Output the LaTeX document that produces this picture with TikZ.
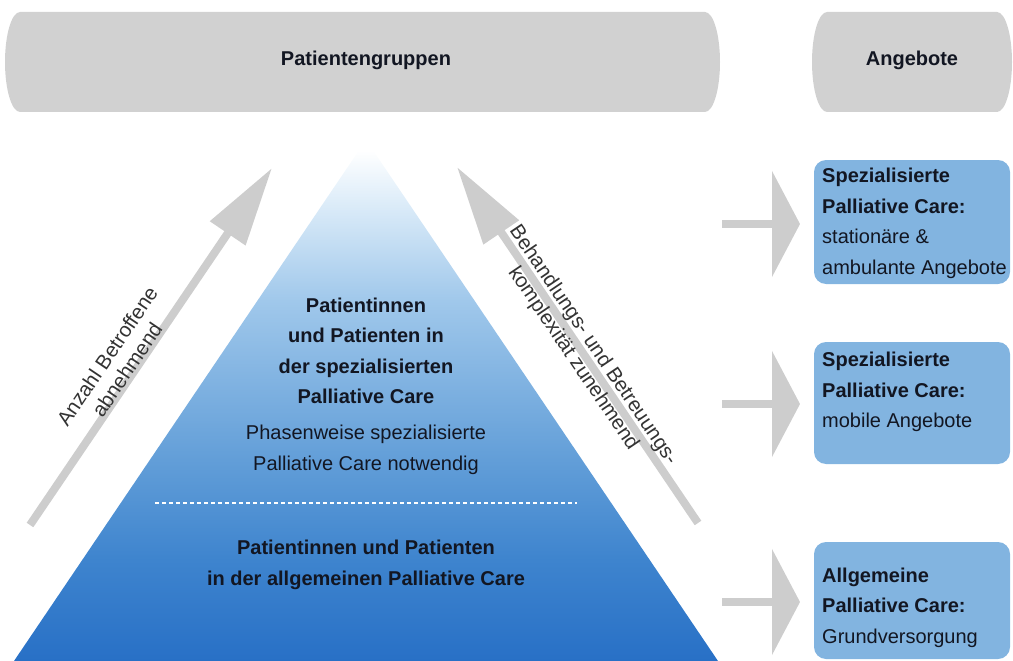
\documentclass[tikz,border=0pt]{standalone}
\usepackage{fontspec}
\setmainfont{Liberation Sans}
\usetikzlibrary{arrows.meta}
\definecolor{pillgray}{RGB}{209,209,209}
\definecolor{arrowgray}{RGB}{205,205,205}
\definecolor{boxblue}{RGB}{130,180,224}
\definecolor{txt}{RGB}{18,22,34}
\definecolor{pbA}{RGB}{40,112,198}
\definecolor{pbB}{RGB}{62,132,206}
\definecolor{pbC}{RGB}{98,158,216}
\definecolor{pbD}{RGB}{160,200,235}
\definecolor{pbE}{RGB}{222,237,249}
\pgfdeclareverticalshading{pyrshade}{100bp}{color(0bp)=(pbA); color(25bp)=(pbA); color(34.7bp)=(pbB); color(44.3bp)=(pbC); color(59.6bp)=(pbD); color(69.2bp)=(pbE); color(74bp)=(white); color(100bp)=(white)}
\begin{document}
\begin{tikzpicture}[x=1pt,y=-1pt,
  pilltext/.style={font=\fontsize{20}{30}\selectfont\bfseries, text=txt, inner sep=0},
  pyrtext/.style={font=\fontsize{20}{30.5}\selectfont, text=txt, align=center, inner sep=0},
  boxtext/.style={font=\fontsize{20}{30.5}\selectfont, text=txt, align=left, inner sep=0, anchor=west},
  rottext/.style={font=\fontsize{20.5}{24}\selectfont, text=black!80, align=center, inner sep=0},
  offerbox/.style={fill=boxblue, rounded corners=12},
  harrow/.style={draw=arrowgray, line width=8, -{Triangle[length=28,width=105]}, arrowgray},
  darrow/.style={draw=arrowgray, line width=8, -{Triangle[length=79,width=41]}, arrowgray}
]
\useasboundingbox (0,0) rectangle (1013,661);
% top pills
\fill[pillgray] (20,12) -- (705,12) arc[start angle=-90, end angle=90, x radius=15, y radius=50]
  -- (20,112) arc[start angle=90, end angle=270, x radius=15, y radius=50] -- cycle;
\fill[pillgray] (827,12) -- (997,12) arc[start angle=-90, end angle=90, x radius=15, y radius=50]
  -- (827,112) arc[start angle=90, end angle=270, x radius=15, y radius=50] -- cycle;
\node[pilltext] (pg) at (366,60) {Patientengruppen};
\node[pilltext] (ang) at (912,60) {Angebote};
% pyramid
\shade[shading=pyrshade] (14,661) -- (366,140) -- (718,661) -- cycle;
\coordinate (dl) at (155,503);
\coordinate (dr) at (577,503);
\draw[white, line width=2, dash pattern=on 4 off 3] (dl) -- (dr);
\node[pyrtext] (specA) at (366,351) {\bfseries Patientinnen\\ \bfseries und Patienten in\\ \bfseries der spezialisierten\\ \bfseries Palliative Care};
\node[pyrtext] (specB) at (366,450) {Phasenweise spezialisierte\\ Palliative Care notwendig};
\node[pyrtext] (allg) at (366,565) {\bfseries Patientinnen und Patienten\\ \bfseries in der allgemeinen Palliative Care};
% diagonal arrows
\coordinate (la) at (30,525);
\coordinate (lb) at (272,168);
\coordinate (ra) at (698,523);
\coordinate (rb) at (457,167);
\draw[darrow] (la) -- (lb);
\draw[darrow] (ra) -- (rb);
\node[rottext, rotate=55.9] (ltext) at (117,363) {Anzahl Betroffene\\ abnehmend};
\node[rottext, rotate=-55.9] (rtext) at (583,352) {Behandlungs- und Betreuungs-\\ komplexität zunehmend};
% offer boxes
\fill[offerbox] (814,160) rectangle (1010,284);
\fill[offerbox] (814,342) rectangle (1010,464);
\fill[offerbox] (814,542) rectangle (1010,659);
\node[boxtext] (b1) at (822,223.5) {\bfseries Spezialisierte\\ \bfseries Palliative Care:\\ stationäre \&\\ ambulante Angebote};
\node[boxtext] (b2) at (822,392) {\bfseries Spezialisierte\\ \bfseries Palliative Care:\\ mobile Angebote};
\node[boxtext] (b3) at (822,607.5) {\bfseries Allgemeine\\ \bfseries Palliative Care:\\ Grundversorgung};
% horizontal arrows
\coordinate (h1a) at (722,224); \coordinate (h1b) at (800,224);
\coordinate (h2a) at (722,404); \coordinate (h2b) at (800,404);
\coordinate (h3a) at (722,602); \coordinate (h3b) at (800,602);
\draw[harrow] (h1a) -- (h1b);
\draw[harrow] (h2a) -- (h2b);
\draw[harrow] (h3a) -- (h3b);
\end{tikzpicture}
\end{document}
